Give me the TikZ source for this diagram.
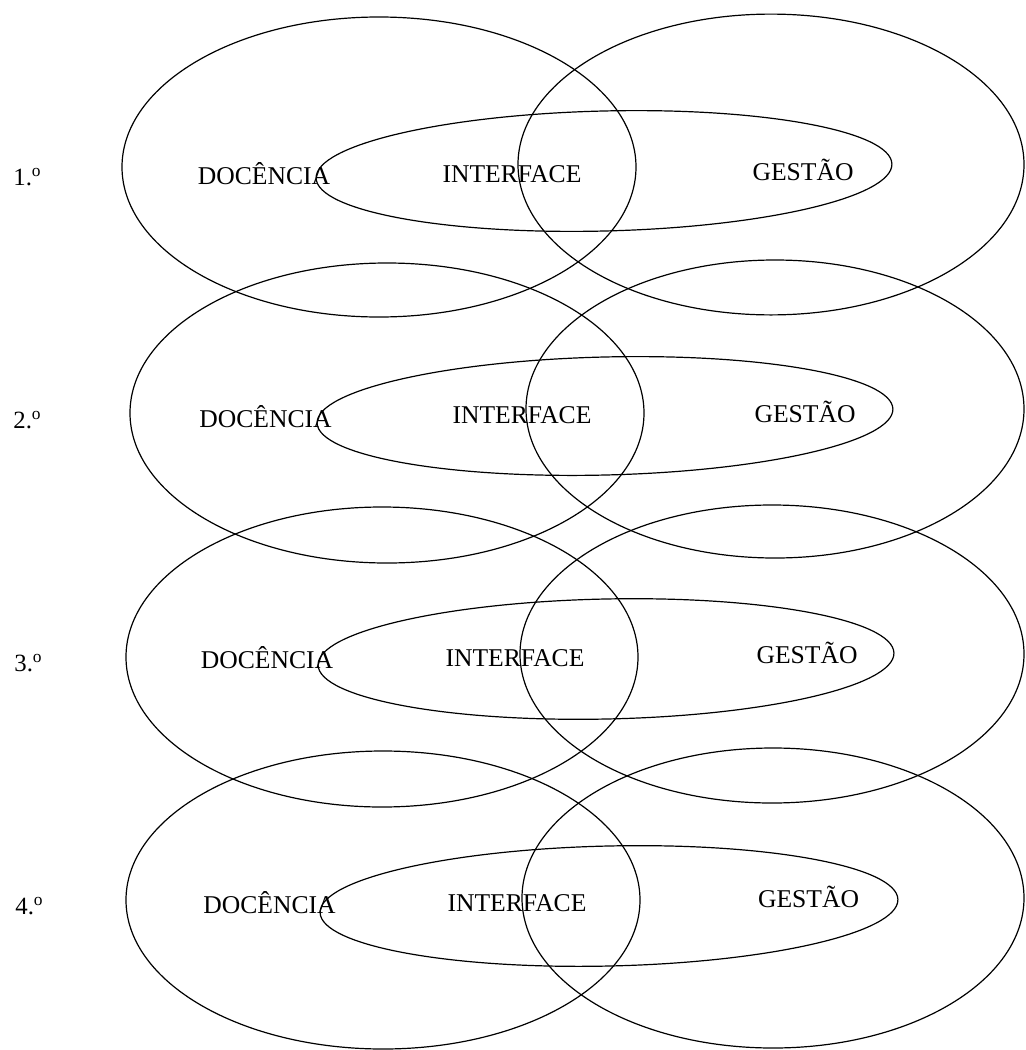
\documentclass[tikz,border=0pt]{standalone}
\usepackage{fontspec}
\setmainfont{Liberation Serif}
\tikzset{
  ring/.style={draw=black, line width=0.6pt},
  word/.style={inner sep=0pt, anchor=base, font=\fontsize{12.8}{15}\selectfont},
  rownum/.style={inner sep=0pt, anchor=base west, font=\fontsize{12.4}{15}\selectfont}
}
\newcommand{\ordo}{\textsuperscript{o}}
\begin{document}
\begin{tikzpicture}[x=0.5pt, y=-0.5pt]
\useasboundingbox (0,0) rectangle (1025,1050);
\clip (0,0) rectangle (1025,1050);
% Row 1
\draw[ring] (379,167) ellipse [x radius=128.5pt, y radius=75pt];
\draw[ring] (771,164.5) ellipse [x radius=126.5pt, y radius=75.2pt];
\draw[ring, rotate around={1.4:(604,171)}] (604,171) ellipse [x radius=144pt, y radius=30pt];
% Row 2
\draw[ring] (387,413) ellipse [x radius=128.5pt, y radius=75pt];
\draw[ring] (775,409) ellipse [x radius=124.5pt, y radius=74.5pt];
\draw[ring, rotate around={1.4:(605,416)}] (605,416) ellipse [x radius=144pt, y radius=29.5pt];
% Row 3
\draw[ring] (382,657) ellipse [x radius=128pt, y radius=75pt];
\draw[ring] (772,654) ellipse [x radius=126pt, y radius=74.5pt];
\draw[ring, rotate around={1.2:(606,659)}] (606,659) ellipse [x radius=144pt, y radius=30pt];
% Row 4
\draw[ring] (383,900) ellipse [x radius=128.5pt, y radius=74.5pt];
\draw[ring] (773,898) ellipse [x radius=125.5pt, y radius=75pt];
\draw[ring, rotate around={1.3:(609,906)}] (609,906) ellipse [x radius=144.5pt, y radius=30pt];
% Labels row 1
\node[rownum] (n1) at (13,185) {1.\ordo};
\node[word] (d1) at (264,184) {DOCÊNCIA};
\node[word] (i1) at (512,182) {INTERFACE};
\node[word] (g1) at (803,180) {GESTÃO};
% Labels row 2
\node[rownum] (n2) at (13,428) {2.\ordo};
\node[word] (d2) at (265.5,427) {DOCÊNCIA};
\node[word] (i2) at (522,423) {INTERFACE};
\node[word] (g2) at (805,422) {GESTÃO};
% Labels row 3
\node[rownum] (n3) at (14,671) {3.\ordo};
\node[word] (d3) at (267,668) {DOCÊNCIA};
\node[word] (i3) at (515,666) {INTERFACE};
\node[word] (g3) at (807,663) {GESTÃO};
% Labels row 4
\node[rownum] (n4) at (15,914) {4.\ordo};
\node[word] (d4) at (269.5,913) {DOCÊNCIA};
\node[word] (i4) at (517,911) {INTERFACE};
\node[word] (g4) at (808.5,907) {GESTÃO};
\end{tikzpicture}
\end{document}
